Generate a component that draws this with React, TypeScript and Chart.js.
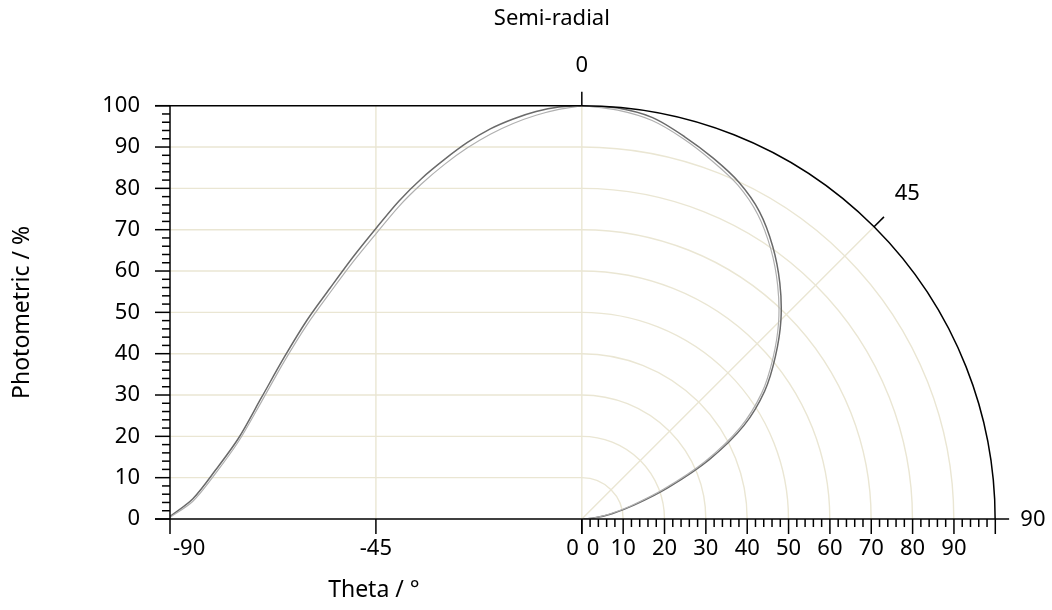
import React, { useEffect, useRef } from 'react';
import { Chart, registerables } from 'chart.js';

Chart.register(...registerables);

// ---- data ----
const THETA_LEFT = [-90, -85, -80, -75, -70, -65, -60, -55, -50, -45, -40, -35, -30, -25, -20, -15, -10, -5, 0];
const LEFT_DARK = [0.6, 4.9, 11.9, 19.6, 29.4, 39.2, 48.2, 55.9, 63.4, 70.3, 76.9, 82.4, 87.0, 91.1, 94.4, 96.8, 98.6, 99.7, 100];
const LEFT_LIGHT = [0.4, 4.3, 11.1, 18.8, 28.4, 38.2, 47.1, 54.8, 62.2, 69.0, 75.6, 81.1, 85.8, 89.8, 93.1, 95.7, 97.7, 99.1, 100];

const THETA_RIGHT = [0, 5, 10, 15, 20, 25, 30, 35, 40, 45, 50, 55, 60, 65, 70, 75, 80, 85, 90];
const RIGHT_DARK = [100, 99.8, 98.6, 95.8, 92.9, 89.9, 85.9, 80.5, 74.5, 68.1, 61.1, 54.0, 45.3, 34.0, 22.2, 13.2, 7.4, 3.2, 0.5];
const RIGHT_LIGHT = [100, 99.3, 97.9, 95.2, 92.2, 89.2, 85.1, 79.7, 73.7, 67.3, 60.3, 53.1, 44.2, 32.8, 21.0, 12.2, 6.6, 2.8, 0.3];

const Y_TICKS = [0, 10, 20, 30, 40, 50, 60, 70, 80, 90, 100];
const THETA_TICKS = [-90, -45, 0];
const RADIAL_TICKS = [0, 10, 20, 30, 40, 50, 60, 70, 80, 90];
const RADIAL_GRID = [10, 20, 30, 40, 50, 60, 70, 80, 90];
const ANGLE_TICKS = [0, 45, 90];

// ---- layout / style ----
const LEFT_UNITS = 99.6; // x-scale width of the -90..0 cartesian half
const X_MIN = -LEFT_UNITS;
const X_MAX = 100;
const FONT = '"Noto Sans", "DejaVu Sans", sans-serif';
const FSIZE = 22;
const TSIZE = 23;
const GRID = '#EAE6D3';
const DARK = '#6a6a6a';
const LIGHT = '#b0b0b0';
const INK = '#000000';

const thetaToX = (t: number) => (t / 90) * LEFT_UNITS;
const rad = (d: number) => (d * Math.PI) / 180;

const leftPts = (vals: number[]) => THETA_LEFT.map((t, i) => ({ x: thetaToX(t), y: vals[i] }));
const polarPts = (vals: number[]) =>
  THETA_RIGHT.map((t, i) => ({ x: vals[i] * Math.sin(rad(t)), y: vals[i] * Math.cos(rad(t)) }));

const semiPlugin = {
  id: 'semiRadial',
  beforeDatasetsDraw(chart: any) {
    const { ctx } = chart;
    const xs = chart.scales.x;
    const ys = chart.scales.y;
    const px = (v: number) => xs.getPixelForValue(v);
    const py = (v: number) => ys.getPixelForValue(v);
    const tx = (t: number) => px(thetaToX(t));
    const cx = px(0);
    const cy = py(0);
    const R = (r: number) => cy - py(r);
    ctx.save();
    ctx.strokeStyle = GRID;
    ctx.lineWidth = 1.4;
    for (const v of Y_TICKS) {
      if (v === 0 || v === 100) continue;
      ctx.beginPath();
      ctx.moveTo(tx(-90), py(v));
      ctx.lineTo(cx, py(v));
      ctx.stroke();
    }
    for (const t of [-45, 0]) {
      ctx.beginPath();
      ctx.moveTo(tx(t), py(0));
      ctx.lineTo(tx(t), py(100));
      ctx.stroke();
    }
    for (const r of RADIAL_GRID) {
      ctx.beginPath();
      ctx.arc(cx, cy, R(r), -Math.PI / 2, 0);
      ctx.stroke();
    }
    ctx.beginPath();
    ctx.moveTo(cx, cy);
    ctx.lineTo(cx + R(100) * Math.sin(rad(45)), cy - R(100) * Math.cos(rad(45)));
    ctx.stroke();
    ctx.restore();
  },
  afterDatasetsDraw(chart: any) {
    const { ctx } = chart;
    const xs = chart.scales.x;
    const ys = chart.scales.y;
    const px = (v: number) => xs.getPixelForValue(v);
    const py = (v: number) => ys.getPixelForValue(v);
    const tx = (t: number) => px(thetaToX(t));
    const cx = px(0);
    const cy = py(0);
    const R = (r: number) => cy - py(r);
    const L = tx(-90);
    const line = (x1: number, y1: number, x2: number, y2: number) => {
      ctx.beginPath();
      ctx.moveTo(x1, y1);
      ctx.lineTo(x2, y2);
      ctx.stroke();
    };
    ctx.save();
    ctx.strokeStyle = INK;
    ctx.lineWidth = 1.5;
    line(L, py(0), L, py(100));
    line(L - 15, py(100), cx, py(100));
    line(L - 15, cy, px(100), cy);
    ctx.beginPath();
    ctx.arc(cx, cy, R(100), -Math.PI / 2, 0);
    ctx.stroke();
    for (let v = 0; v <= 100; v += 2) {
      const len = v % 10 === 0 ? 15 : 8;
      line(L - len, py(v), L, py(v));
    }
    for (const t of THETA_TICKS) line(tx(t), cy, tx(t), cy + 15);
    for (let r = 0; r <= 100; r += 2) {
      const len = r % 10 === 0 ? 15 : 8;
      line(px(r), cy, px(r), cy + len);
    }
    for (const a of ANGLE_TICKS) {
      const s = Math.sin(rad(a));
      const c = Math.cos(rad(a));
      line(cx + R(100) * s, cy - R(100) * c, cx + (R(100) + 14) * s, cy - (R(100) + 14) * c);
    }

    ctx.fillStyle = INK;
    ctx.font = `${FSIZE}px ${FONT}`;
    ctx.textBaseline = 'middle';
    const ly = cy + 30;
    THETA_TICKS.forEach((t, i) => {
      if (i === 0) {
        ctx.textAlign = 'left';
        ctx.fillText(String(t), tx(t) + 3, ly);
      } else if (i === THETA_TICKS.length - 1) {
        ctx.textAlign = 'right';
        ctx.fillText(String(t), tx(t) - 3, ly);
      } else {
        ctx.textAlign = 'center';
        ctx.fillText(String(t), tx(t), ly);
      }
    });
    RADIAL_TICKS.forEach((r, i) => {
      if (i === 0) {
        ctx.textAlign = 'left';
        ctx.fillText(String(r), px(r) + 5, ly);
      } else {
        ctx.textAlign = 'center';
        ctx.fillText(String(r), px(r), ly);
      }
    });
    ctx.textAlign = 'center';
    ctx.fillText(String(ANGLE_TICKS[0]), cx, py(100) - 40);
    const d45 = R(100) + 47;
    ctx.fillText(String(ANGLE_TICKS[1]), cx + d45 * Math.sin(rad(45)), cy - d45 * Math.cos(rad(45)));
    ctx.textAlign = 'left';
    ctx.fillText(String(ANGLE_TICKS[2]), px(100) + 25, cy + 1);
    ctx.textAlign = 'center';
    ctx.fillText('Semi-radial', cx - 30, 19);
    ctx.font = `${TSIZE}px ${FONT}`;
    ctx.fillText('Theta / °', tx(-45) - 2, cy + 71);
    ctx.restore();
  },
};

export default function App() {
  const ref = useRef<HTMLCanvasElement | null>(null);
  useEffect(() => {
    if (!ref.current) return;
    const chart = new Chart(ref.current, {
      type: 'scatter',
      data: {
        datasets: [
          { data: leftPts(LEFT_LIGHT), showLine: true, borderColor: LIGHT, borderWidth: 1.2, pointRadius: 0, tension: 0.3, fill: false },
          { data: polarPts(RIGHT_LIGHT), showLine: true, borderColor: LIGHT, borderWidth: 1.2, pointRadius: 0, tension: 0.3, fill: false },
          { data: leftPts(LEFT_DARK), showLine: true, borderColor: DARK, borderWidth: 1.5, pointRadius: 0, tension: 0.3, fill: false },
          { data: polarPts(RIGHT_DARK), showLine: true, borderColor: DARK, borderWidth: 1.5, pointRadius: 0, tension: 0.3, fill: false },
        ],
      },
      options: {
        responsive: true,
        maintainAspectRatio: false,
        animation: false,
        layout: { padding: { left: 0, top: 105.7, right: 56.7, bottom: 91 } },
        plugins: { legend: { display: false }, tooltip: { enabled: false } },
        scales: {
          x: { type: 'linear', display: false, min: X_MIN, max: X_MAX },
          y: {
            type: 'linear',
            position: 'left',
            min: 0,
            max: 100,
            afterBuildTicks: (axis: any) => {
              axis.ticks = Y_TICKS.map((v) => ({ value: v }));
            },
            afterFit: (axis: any) => {
              axis.width = 170;
            },
            ticks: {
              autoSkip: false,
              padding: 15,
              color: INK,
              font: { family: FONT, size: FSIZE },
              callback: (v: any) => String(v),
            },
            grid: { display: true, drawOnChartArea: false, drawTicks: true, tickLength: 15, tickColor: 'rgba(0,0,0,0)' },
            border: { display: false },
            title: {
              display: true,
              text: 'Photometric / %',
              color: INK,
              font: { family: FONT, size: TSIZE },
              padding: { top: 9, bottom: 0 },
            },
          },
        },
      } as any,
      plugins: [semiPlugin],
    });
    return () => chart.destroy();
  }, []);
  return (
    <div style={{ position: 'fixed', left: 0, top: 0, width: 1052, height: 610, background: '#fff' }}>
      <canvas ref={ref} />
    </div>
  );
}
